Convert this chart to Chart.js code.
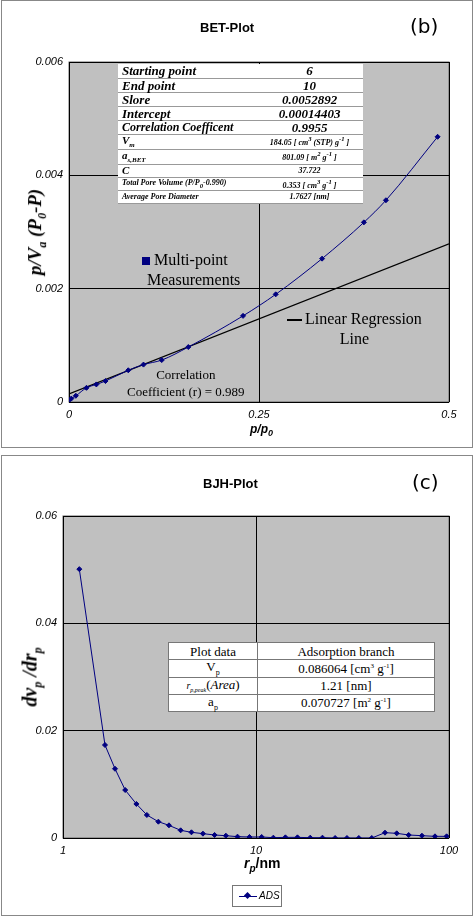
<!DOCTYPE html>
<html>
<head>
<meta charset="utf-8">
<script src="https://cdn.jsdelivr.net/npm/chart.js@4"></script>
<style>
body { margin: 0; width: 474px; height: 916px; background: #fff; position: relative; font-family: "Liberation Sans", Arial, sans-serif; overflow: hidden; }
.panel { position: absolute; left: 1px; width: 470px; border: 1px solid #888; }
.abs { position: absolute; white-space: nowrap; }
canvas { position: absolute; left: 0; }
table { position: absolute; border-collapse: collapse; background: #fff; font-family: "Liberation Serif", "Times New Roman", serif; }
td { border-bottom: 1px solid #999; padding: 0 4px; line-height: 1; }
.bet td { font-weight: bold; font-style: italic; }
.bjh td { border: 1px solid #777; text-align: center; font-size: 13px; }
.serif { font-family: "Liberation Serif", "Times New Roman", serif; }
</style>
</head>
<body>
<div class="panel" style="top:0;height:446px"></div>
<div class="panel" style="top:455px;height:459px"></div>
<canvas id="bet" width="474" height="447" style="top:0"></canvas>
<canvas id="bjh" width="474" height="459" style="top:455px"></canvas>

<div class="abs" style="left:200px;top:20px;font-weight:bold;font-size:13px">BET-Plot</div>
<div class="abs" style="left:410px;top:14px;font-size:20px;font-family:'DejaVu Sans'">(b)</div>
<div class="abs" style="left:203px;top:476px;font-weight:bold;font-size:13px">BJH-Plot</div>
<div class="abs" style="left:412px;top:470px;font-size:20px;font-family:'DejaVu Sans'">(c)</div>

<table class="bet" style="left:118px;top:64px;width:245px">
<tr style="height:14px"><td style="font-size:13px;width:130px">Starting point</td><td style="font-size:13px;text-align:center">6</td></tr>
<tr style="height:14px"><td style="font-size:13px">End point</td><td style="font-size:13px;text-align:center">10</td></tr>
<tr style="height:14px"><td style="font-size:13px">Slore</td><td style="font-size:13px;text-align:center">0.0052892</td></tr>
<tr style="height:14px"><td style="font-size:13px">Intercept</td><td style="font-size:13px;text-align:center">0.00014403</td></tr>
<tr style="height:13px"><td style="font-size:12px">Correlation Coefficent</td><td style="font-size:13px;text-align:center">0.9955</td></tr>
<tr style="height:14px"><td style="font-size:11px">V<sub style="font-size:7px">m</sub></td><td style="font-size:8px;text-align:center">184.05 [ cm<sup>3</sup> (STP) g<sup>-1</sup> ]</td></tr>
<tr style="height:14px"><td style="font-size:11px">a<sub style="font-size:7px">s,BET</sub></td><td style="font-size:8px;text-align:center">801.09 [ m<sup>2</sup> g<sup>-1</sup> ]</td></tr>
<tr style="height:13px"><td style="font-size:11px">C</td><td style="font-size:8px;text-align:center">37.722</td></tr>
<tr style="height:13px"><td style="font-size:8px">Total Pore Volume (P/P<sub>0</sub>-0.990)</td><td style="font-size:8px;text-align:center">0.353 [ cm<sup>3</sup> g<sup>-1</sup> ]</td></tr>
<tr style="height:13px"><td style="font-size:8px">Average Pore Diameter</td><td style="font-size:8px;text-align:center">1.7627 [nm]</td></tr>
</table>

<div class="abs serif" style="left:142px;top:250px;font-size:16px;line-height:20px"><span style="display:inline-block;width:8px;height:8px;background:#000080;margin-right:4px"></span>Multi-point<br><span style="padding-left:5px">Measurements</span></div>
<div class="abs serif" style="left:287px;top:309px;font-size:16px;line-height:20px;text-align:center"><span style="display:inline-block;width:15px;height:2px;background:#000;vertical-align:middle;margin-right:3px"></span>Linear Regression<br>Line</div>
<div class="abs serif" style="left:127px;top:366px;font-size:13px;line-height:17px;text-align:center">Correlation<br>Coefficient (r) = 0.989</div>

<div class="abs serif" style="left:37px;top:232px;transform:translate(-50%,-50%) rotate(-90deg);font-size:19px;font-weight:bold;font-style:italic">p/V<sub style="font-size:12px">a</sub> (P<sub style="font-size:12px">0</sub>-P)</div>
<div class="abs" style="left:250px;top:422px;font-size:12px;font-weight:bold;font-style:italic">p/p<sub style="font-size:9px">0</sub></div>

<table class="bjh" style="left:168px;top:642px;width:267px">
<tr style="height:17px"><td style="width:80px">Plot data</td><td>Adsorption branch</td></tr>
<tr style="height:17px"><td>V<sub style="font-size:8px">p</sub></td><td>0.086064 [cm<sup style="font-size:7px">3</sup> g<sup style="font-size:7px">-1</sup>]</td></tr>
<tr style="height:17px"><td><i style="font-size:10px">r<sub style="font-size:6px">p,peak</sub></i>(<i>Area</i>)</td><td>1.21 [nm]</td></tr>
<tr style="height:17px"><td>a<sub style="font-size:8px">p</sub></td><td>0.070727 [m<sup style="font-size:7px">2</sup> g<sup style="font-size:7px">-1</sup>]</td></tr>
</table>

<div class="abs serif" style="left:32px;top:677px;transform:translate(-50%,-50%) rotate(-90deg);font-size:20px;font-weight:bold;font-style:italic">dv<sub style="font-size:12px">p</sub> /dr<sub style="font-size:12px">p</sub></div>
<div class="abs" style="left:244px;top:855px;font-size:14px;font-weight:bold"><i>r<sub style="font-size:10px">p</sub></i>/nm</div>

<div class="abs" style="left:232px;top:885px;width:48px;height:20px;border:1px solid #777;font-size:10px;font-style:italic;line-height:20px">
<span style="display:inline-block;width:18px;height:1px;background:#000080;vertical-align:middle;margin:0 2px 0 6px;position:relative"><span style="position:absolute;left:6px;top:-3px;width:5px;height:5px;background:#000080;transform:rotate(45deg)"></span></span>ADS</div>

<script>
// BET measurements
const betX = [0, 0.003, 0.009, 0.023, 0.036, 0.048, 0.078, 0.098, 0.122, 0.157, 0.229, 0.272, 0.333, 0.388, 0.417, 0.485];
const betY = [0.00003, 0.00006, 0.00011, 0.00025, 0.00031, 0.00037, 0.00056, 0.00066, 0.00074, 0.00097, 0.00152, 0.0019, 0.00253, 0.00317, 0.00356, 0.00468];
// regression line end points
const regX = [0, 0.5];
const regY = [0.000144, 0.00279];
const betXTicks = [0, 0.25, 0.5];
const betYTicks = [0, 0.002, 0.004, 0.006];

// BJH pore size distribution
const bjhR = [1.215, 1.65, 1.86, 2.10, 2.40, 2.72, 3.12, 3.54, 4.07, 4.63, 5.31, 6.10, 6.98, 8.02, 9.25, 10.7, 12.3, 14.2, 16.4, 19.1, 22.1, 25.7, 29.6, 34.1, 39.8, 46.6, 53.6, 61.8, 72.4, 84.6, 97.2];
const bjhY = [0.0501, 0.01733, 0.0129, 0.00894, 0.00634, 0.00429, 0.00304, 0.00236, 0.00143, 0.00106, 0.00081, 0.00056, 0.00043, 0.00025, 0.00019, 0.00019, 0.00006, 0.00012, 0.00012, 0.00006, 0.00006, 0, 0, 0, 0, 0.00099, 0.00087, 0.00056, 0.00043, 0.00031, 0.00031];
const bjhXTicks = [1, 10, 100];
const bjhYTicks = [0, 0.02, 0.04, 0.06];

const navy = '#000080';
const tickFont = { family: 'Liberation Sans', size: 11, style: 'italic' };

const grayBg = {
    id: 'grayBg',
    beforeDraw(chart) {
        const { ctx, chartArea: a } = chart;
        ctx.save();
        ctx.fillStyle = '#c0c0c0';
        ctx.fillRect(a.left, a.top, a.right - a.left, a.bottom - a.top);
        ctx.strokeStyle = '#666';
        ctx.strokeRect(a.left, a.top, a.right - a.left, a.bottom - a.top);
        ctx.restore();
    }
};

function axis(opts, ticks, size, isY) {
    return Object.assign({
        afterBuildTicks: s => { s.ticks = ticks.map(v => ({ value: v })); },
        afterFit: s => { if (isY) s.width = size; else s.height = size; },
        grid: { color: '#000', drawTicks: false },
        border: { display: false },
        ticks: { color: '#000', font: tickFont, padding: 6, callback: v => String(v) }
    }, opts);
}

new Chart(document.getElementById('bet'), {
    type: 'scatter',
    data: {
        datasets: [
            {
                data: betX.map((x, i) => ({ x, y: betY[i] })),
                showLine: true, borderColor: navy, backgroundColor: navy, borderWidth: 1,
                pointStyle: 'rectRot', pointRadius: 2.5, cubicInterpolationMode: 'monotone'
            },
            {
                data: regX.map((x, i) => ({ x, y: regY[i] })),
                showLine: true, borderColor: '#000', borderWidth: 1.2, pointRadius: 0
            }
        ]
    },
    options: {
        responsive: false, animation: false,
        layout: { padding: { left: 0, right: 25, top: 62, bottom: 0 } },
        plugins: { legend: { display: false }, tooltip: { enabled: false } },
        scales: {
            x: axis({ type: 'linear', min: 0, max: 0.5 }, betXTicks, 45, false),
            y: axis({ type: 'linear', min: 0, max: 0.006 }, betYTicks, 69, true)
        }
    },
    plugins: [grayBg]
});

new Chart(document.getElementById('bjh'), {
    type: 'scatter',
    data: {
        datasets: [{
            data: bjhR.map((x, i) => ({ x, y: bjhY[i] })),
            showLine: true, borderColor: navy, backgroundColor: navy, borderWidth: 1,
            pointStyle: 'rectRot', pointRadius: 2.5
        }]
    },
    options: {
        responsive: false, animation: false,
        layout: { padding: { left: 0, right: 25, top: 61, bottom: 0 } },
        plugins: { legend: { display: false }, tooltip: { enabled: false } },
        scales: {
            x: axis({ type: 'logarithmic', min: 1, max: 100 }, bjhXTicks, 76, false),
            y: axis({ type: 'linear', min: 0, max: 0.06 }, bjhYTicks, 63, true)
        }
    },
    plugins: [grayBg]
});
</script>
</body>
</html>
